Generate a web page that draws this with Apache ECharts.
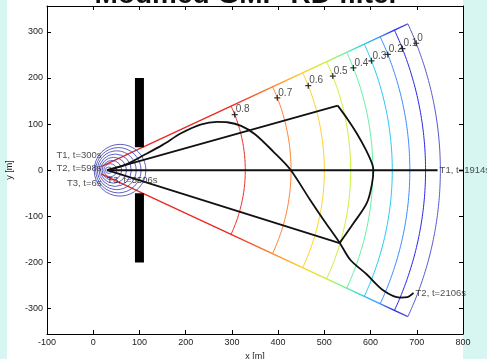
<!DOCTYPE html>
<html><head><meta charset="utf-8">
<script src="https://cdn.jsdelivr.net/npm/echarts@6/dist/echarts.min.js"></script>
<style>html,body{margin:0;padding:0;background:#d8f6f1;overflow:hidden}#c{width:487px;height:359px}</style>
</head><body><div id="c"></div>
<script>
// ---- data ----
const titleText = 'Modified GMP-RD filter';
const xTicks = [-100, 0, 100, 200, 300, 400, 500, 600, 700, 800];
const yTicks = [-300, -200, -100, 0, 100, 200, 300];
const contourLevels = ['0.8', '0.7', '0.6', '0.5', '0.4', '0.3', '0.2', '0.1', '0'];
const contourRadii = [329, 428, 500, 557, 605, 647, 685, 719, 751];
const contourColors = ['#e8281e', '#ff8030', '#ffd21e', '#c8f03c', '#64f0a0', '#28c8f0', '#3c8cff', '#2828e6', '#5a5ad0'];
const fanHalfAngle = 25;      // degrees
const labelAngle = 21.5;      // degrees
const fanInnerRadius = 20;
const wallUpper = [[100, 50], [100, 200]];
const wallLower = [[100, -50], [100, -200]];
const t1Path = [[30, 0], [745, 0]];
const t2Path = [[30, 0], [70, 12], [110, 33], [150, 55], [190, 80], [232, 99], [268, 105], [290, 104], [320, 96], [350, 78], [390, 40], [426, 2], [469, -64], [500, -110], [533, -157], [556, -194], [592, -226], [627, -260], [664, -276], [680, -275], [693, -266]];
const t3Straight = [[529, 140], [30, 0], [533, -158]];
const t3Curve = [[529, 140], [550, 111], [570, 80], [590, 44], [603, 15], [606, 0], [603, -30], [592, -71], [563, -115], [533, -158]];
const ringStart = [30, 0];
const ringRadii = [7, 14, 21, 28, 35, 42, 49, 56];
const ringShift = 0.5;        // centre moves right by this fraction of the radius
const startLabels = [
  ['T1, t=300s', 18, 33, 'left'],
  ['T2, t=598s', 18, 3, 'left'],
  ['T3, t=6s', 18, -28, 'left'],
  ['T3, t=5506s', 30, -23, 'right']
];
const endLabels = [
  ['T1, t=1914s', 745, 0],
  ['T2, t=2106s', 693, -266]
];

const chart = echarts.init(document.getElementById('c'), null, {renderer: 'canvas'});
const FONT = 'Liberation Sans, Arial, Helvetica, sans-serif';
const rad = d => d * Math.PI / 180;

function axisCommon(extra) {
  return Object.assign({
    type: 'value',
    axisLine: {show: true, onZero: false, lineStyle: {color: '#000', width: 1}},
    axisTick: {show: true, inside: true, length: 4, lineStyle: {color: '#000', width: 1}},
    splitLine: {show: false},
    axisLabel: {fontSize: 9, color: '#222', fontFamily: FONT, margin: 4}
  }, extra);
}

const xBase = {min: -100, max: 800, interval: 100};
const yBase = {min: -355, max: 356};

const series = [];

// contour arcs
series.push({
  type: 'custom', name: 'contours', z: 2,
  data: contourRadii.map((r, i) => [r, i]),
  renderItem(params, api) {
    const r = api.value(0), i = api.value(1);
    const pts = [];
    for (let a = -fanHalfAngle; a <= fanHalfAngle + 1e-9; a += 0.5) {
      pts.push(api.coord([r * Math.cos(rad(a)), r * Math.sin(rad(a))]));
    }
    return {type: 'polyline', shape: {points: pts}, style: {stroke: contourColors[i], fill: null, lineWidth: 1}};
  }
});

// fan edges with colour gradient
series.push({
  type: 'custom', name: 'edges', z: 3,
  data: [[1], [-1]],
  renderItem(params, api) {
    const s = api.value(0);
    const rMax = contourRadii[contourRadii.length - 1];
    const p0 = api.coord([fanInnerRadius * Math.cos(rad(fanHalfAngle)), s * fanInnerRadius * Math.sin(rad(fanHalfAngle))]);
    const p1 = api.coord([rMax * Math.cos(rad(fanHalfAngle)), s * rMax * Math.sin(rad(fanHalfAngle))]);
    const stops = [{offset: 0, color: contourColors[0]}];
    contourRadii.forEach((r, i) => stops.push({offset: (r - fanInnerRadius) / (rMax - fanInnerRadius), color: contourColors[i]}));
    const grad = new echarts.graphic.LinearGradient(p0[0], p0[1], p1[0], p1[1], stops, true);
    return {type: 'line', shape: {x1: p0[0], y1: p0[1], x2: p1[0], y2: p1[1]}, style: {stroke: grad, lineWidth: 1.3}};
  }
});

// rings near the start
series.push({
  type: 'custom', name: 'rings', z: 3,
  data: ringRadii.map(r => [r]),
  renderItem(params, api) {
    const r = api.value(0);
    const c = api.coord([ringStart[0] + ringShift * r, ringStart[1]]);
    const pr = api.size([r, 0])[0];
    return {type: 'arc', shape: {cx: c[0], cy: c[1], r: pr, startAngle: 0, endAngle: Math.PI * 2}, style: {stroke: '#3a3ab4', fill: null, lineWidth: 0.8}};
  }
});

const blackLine = (data, smooth, w) => ({type: 'line', data, smooth, showSymbol: false, symbol: 'none', z: 5,
  lineStyle: {color: '#111', width: w || 1.8}, silent: true});
series.push(blackLine(t1Path, false, 2.2));
series.push(blackLine(t2Path, 0.3));
series.push(blackLine(t3Straight, false));
series.push(blackLine(t3Curve, 0.35));

// wall
[wallUpper, wallLower].forEach(w => series.push({type: 'line', data: w, symbol: 'none', z: 6,
  lineStyle: {color: '#000', width: 9, cap: 'butt'}}));

// contour label markers
series.push({
  type: 'scatter', z: 7,
  symbol: 'path://M4,0H6V4H10V6H6V10H4V6H0V4H4Z', symbolSize: 6,
  itemStyle: {color: '#000'},
  data: contourRadii.map((r, i) => ({value: [r * Math.cos(rad(labelAngle)), r * Math.sin(rad(labelAngle))], name: contourLevels[i]})),
  label: {show: true, formatter: p => p.name, position: 'right', distance: -2, offset: [0, -5], fontSize: 10, color: '#222', fontFamily: FONT}
});

// text labels
series.push({
  type: 'scatter', z: 8, symbolSize: 0,
  data: startLabels.map(l => ({value: [l[1], l[2]], name: l[0], label: {position: l[3]}})),
  label: {show: true, formatter: p => p.name, distance: 0, fontSize: 9.5, color: '#222', fontFamily: FONT}
});
series.push({
  type: 'scatter', z: 8, symbolSize: 0,
  data: endLabels.map(l => ({value: [l[1], l[2]], name: l[0]})),
  label: {show: true, formatter: p => p.name, position: 'right', distance: 2, fontSize: 9.5, color: '#222', fontFamily: FONT}
});

chart.setOption({
  animation: false,
  backgroundColor: 'transparent',
  graphic: [
    {type: 'rect', left: 7, top: 0, shape: {width: 456, height: 359}, style: {fill: '#ffffff'}, z: -10},
    {type: 'text', x: 247, y: 9, z: 10, style: {text: titleText, textAlign: 'center', textVerticalAlign: 'bottom', font: 'bold 28px ' + FONT, fill: '#111'}}
  ],
  grid: {left: 47, top: 6, width: 416, height: 328, show: false, containLabel: false, outerBoundsMode: 'none'},
  xAxis: [
    axisCommon(Object.assign({position: 'bottom', name: 'x [m]', nameLocation: 'middle', nameGap: 10,
      nameTextStyle: {fontSize: 9, color: '#222', fontFamily: FONT}}, xBase)),
    axisCommon(Object.assign({position: 'top', axisLabel: {show: false}}, xBase))
  ],
  yAxis: [
    axisCommon(Object.assign({position: 'left', name: 'y [m]', nameLocation: 'middle', nameGap: 25,
      nameTextStyle: {fontSize: 9, color: '#222', fontFamily: FONT},
      axisLabel: {fontSize: 9, color: '#222', fontFamily: FONT, margin: 4, customValues: yTicks},
      axisTick: {show: true, inside: true, length: 4, lineStyle: {color: '#000'}, customValues: yTicks}}, yBase)),
    axisCommon(Object.assign({position: 'right', axisLabel: {show: false},
      axisTick: {show: true, inside: true, length: 4, lineStyle: {color: '#000'}, customValues: yTicks}}, yBase))
  ],
  series: series.map(s => Object.assign({xAxisIndex: 0, yAxisIndex: 0}, s))
});
</script></body></html>
